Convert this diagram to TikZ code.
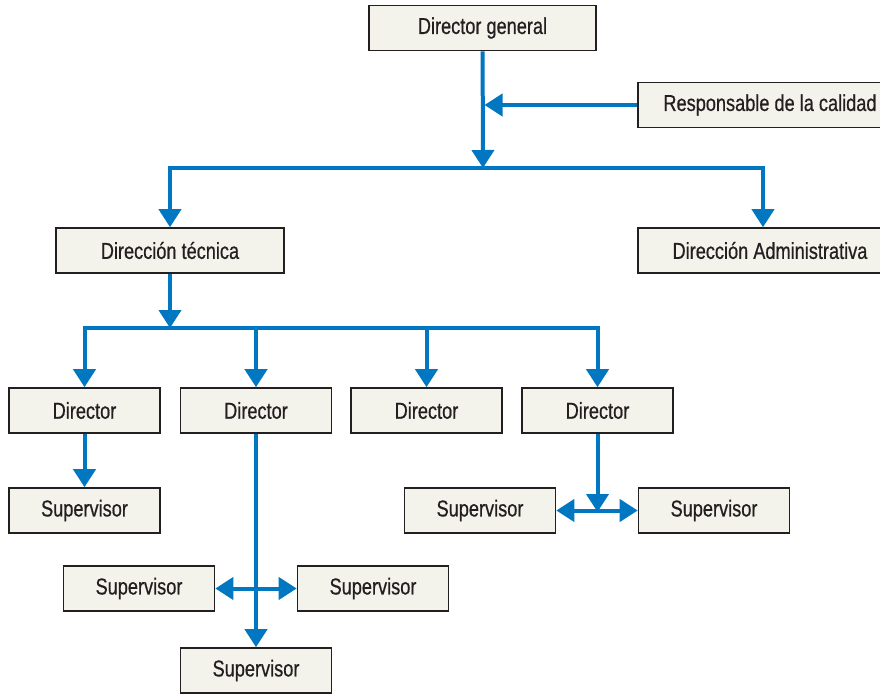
\documentclass[tikz,border=0pt]{standalone}
\usepackage{fontspec}
\setmainfont[FakeStretch=0.79, FakeBold=0.6]{Liberation Sans}
\usetikzlibrary{arrows.meta}
\definecolor{azul}{HTML}{0077C0}
\definecolor{fondocaja}{HTML}{F3F3EB}
\definecolor{borde}{HTML}{231F20}

\begin{document}
\begin{tikzpicture}[x=1pt, y=-1pt,
    every node/.style={rectangle, draw=borde, fill=fondocaja, line width=1.6pt, text=borde, font=\fontsize{23}{25}\selectfont, minimum height=45pt, inner sep=0pt},
    jefe/.style={minimum width=151pt},
    linea/.style={draw=azul, line width=4pt, line cap=rect},
    flecha/.style={draw=azul, line width=4pt, -{Triangle[length=18pt, width=22pt]}},
    doble/.style={draw=azul, line width=4pt, {Triangle[length=18pt, width=22pt]}-{Triangle[length=18pt, width=22pt]}}]
    \useasboundingbox (0,0) rectangle (880,695);
    % Direccion
    \node (dg) at (482.5, 28) [minimum width=227pt] {Director general};
    \node (resp) at (770, 105) [minimum width=264pt] {Responsable de la calidad};
    \node (dt) at (170, 250.5) [minimum width=228pt] {Dirección técnica};
    \node (da) at (770, 250.5) [minimum width=264pt] {Dirección Administrativa};

    \coordinate (b1) at (483, 168);
    \coordinate (b1l) at (170, 168);
    \coordinate (b1r) at (763, 168);

    \draw[flecha] (dg) -- (b1);
    \draw[flecha, shorten >=2pt] (resp) -- (resp -| dg);
    \draw[linea] (b1l) -- (b1r);
    \draw[flecha] (b1l) -- (dt);
    \draw[flecha] (b1r) -- (b1r |- da.north);

    % Directores
    \node[jefe] (d1) at (84.5, 410.5) {Director};
    \node[jefe] (d2) at (256, 410.5) {Director};
    \node[jefe] (d3) at (426.5, 410.5) {Director};
    \node[jefe] (d4) at (597.5, 410.5) {Director};

    \coordinate (b2) at (170, 328);
    \coordinate (b2l) at (84.5, 328);
    \coordinate (b2r) at (597.5, 328);

    \draw[flecha] (dt) -- (b2);
    \draw[linea] (b2l) -- (b2r);
    \draw[flecha] (b2l) -- (d1);
    \draw[flecha] (b2 -| d2) -- (d2);
    \draw[flecha] (b2 -| d3) -- (d3);
    \draw[flecha] (b2r) -- (d4);

    % Supervisores
    \node[jefe] (s1) at (84.5, 510.5) {Supervisor};
    \node[jefe] (s2i) at (139, 588.5) {Supervisor};
    \node[jefe] (s2d) at (373, 588.5) {Supervisor};
    \node[jefe] (s2c) at (256, 670.5) {Supervisor};
    \node[jefe] (s4i) at (480, 510.5) {Supervisor};
    \node[jefe] (s4d) at (714, 510.5) {Supervisor};

    \coordinate (c4) at (597.5, 512);

    \draw[flecha] (d1) -- (s1);
    \draw[flecha] (d2) -- (s2c);
    \draw[doble] (s2i) -- (s2d);
    \draw[flecha] (d4) -- (c4);
    \draw[doble] (s4i) -- (s4d);
\end{tikzpicture}
\end{document}
